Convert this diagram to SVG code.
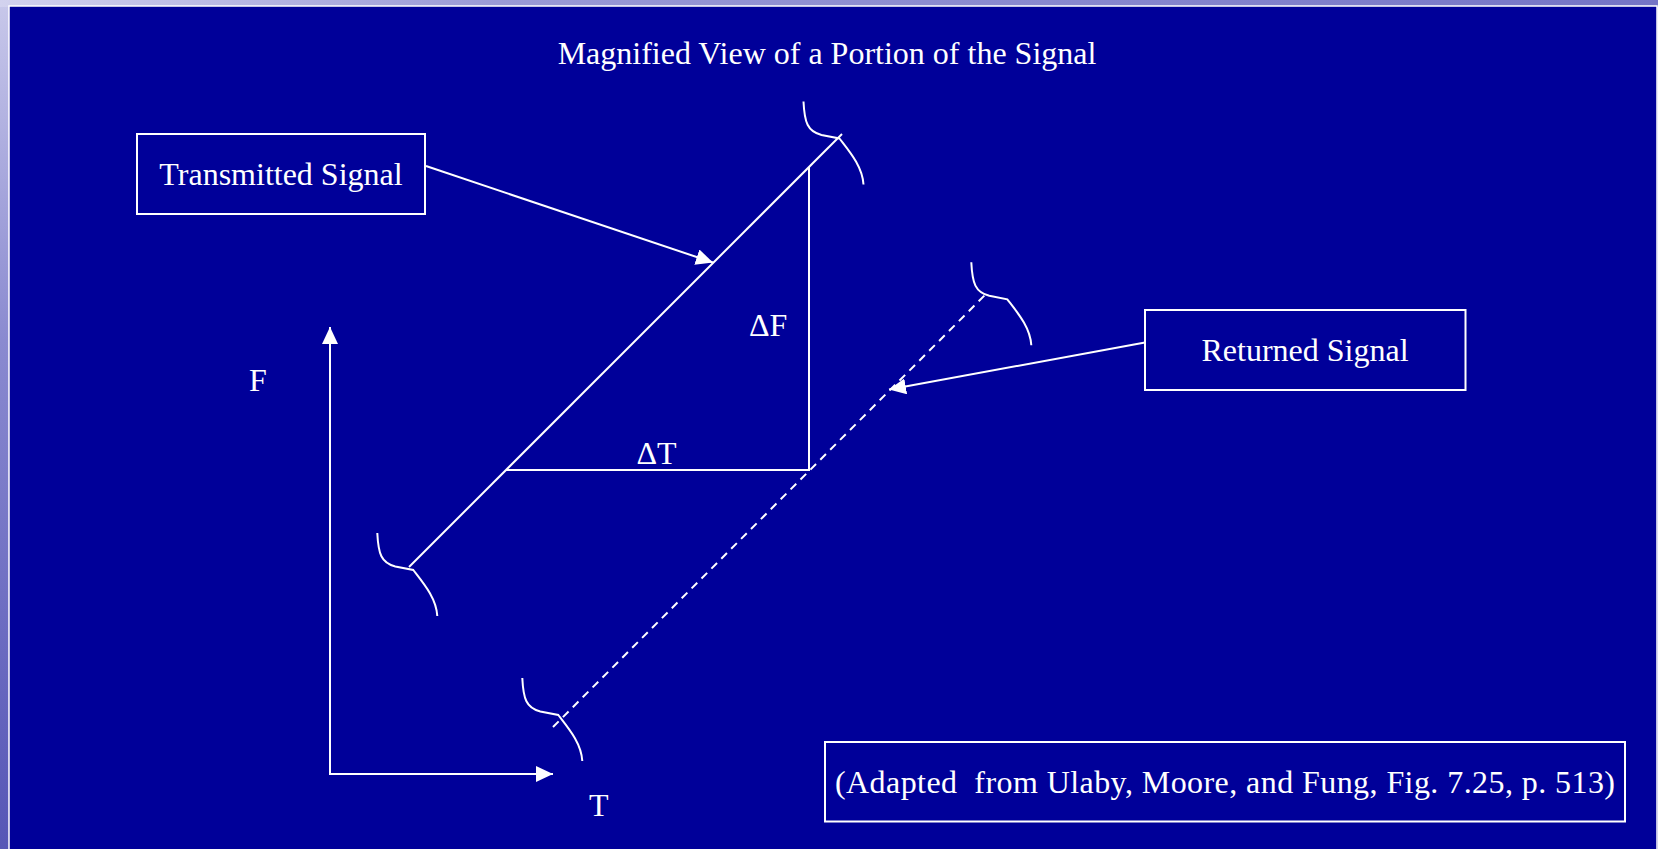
<svg xmlns="http://www.w3.org/2000/svg" width="1658" height="849" viewBox="0 0 1658 849">
  <style>
    .t { font-family: "Liberation Serif", "Times New Roman", serif; font-size: 32px; fill: #ffffff; }
    .box { fill: none; stroke: #ffffff; stroke-width: 2; }
    .ln { fill: none; stroke: #ffffff; stroke-width: 2; }
    .dash { fill: none; stroke: #ffffff; stroke-width: 2; stroke-dasharray: 8 6; }
    .arr { fill: none; stroke: #ffffff; stroke-width: 2; marker-end: url(#ah); }
  </style>
  <defs>
    <marker id="ah" markerUnits="userSpaceOnUse" markerWidth="18" markerHeight="16" viewBox="0 0 18 16" refX="17" refY="8" orient="auto">
      <path d="M0 0 L17 8 L0 16 Z" fill="#ffffff"/>
    </marker>
    <linearGradient id="topg" x1="0" y1="0" x2="1" y2="0">
      <stop offset="0" stop-color="#d2d2ee"/>
      <stop offset="0.3" stop-color="#9a9ad6"/>
      <stop offset="1" stop-color="#7474c6"/>
    </linearGradient>
    <linearGradient id="leftg" x1="0" y1="0" x2="0" y2="1">
      <stop offset="0" stop-color="#c8c8ea"/>
      <stop offset="0.4" stop-color="#8a8ad0"/>
      <stop offset="1" stop-color="#5656b6"/>
    </linearGradient>
    <path id="brace" d="M -36 -37 C -35 -16, -32 -7, -18 -3.5 L 0 0 C 10 13, 23 28, 24 46" fill="none" stroke="#ffffff" stroke-width="2"/>
  </defs>

  <!-- slide background -->
  <rect x="0" y="0" width="1658" height="849" fill="url(#leftg)"/>
  <rect x="0" y="0" width="1658" height="7" fill="url(#topg)"/>
  <rect x="9" y="6" width="1648" height="900" fill="#000099" stroke="#ffffff" stroke-width="1.5"/>

  <g id="title">
    <text class="t" x="827" y="64" text-anchor="middle">Magnified View of a Portion of the Signal</text>
  </g>

  <g id="transmitted-box">
    <rect class="box" x="137" y="134" width="288" height="80"/>
    <text class="t" x="281" y="185" text-anchor="middle">Transmitted Signal</text>
  </g>

  <g id="returned-box">
    <rect class="box" x="1145" y="310" width="320.5" height="80"/>
    <text class="t" x="1305" y="361" text-anchor="middle">Returned Signal</text>
  </g>

  <g id="source-box">
    <rect class="box" x="825" y="742" width="800" height="79.5"/>
    <text class="t" x="835" y="793" textLength="780" lengthAdjust="spacing" xml:space="preserve">(Adapted  from Ulaby, Moore, and Fung, Fig. 7.25, p. 513)</text>
  </g>

  <g id="transmitted-signal">
    <line class="ln" x1="409" y1="567" x2="842" y2="134"/>
    <use href="#brace" transform="translate(839.5 138.5)"/>
    <use href="#brace" transform="translate(413.3 570)"/>
  </g>

  <g id="returned-signal">
    <line class="dash" x1="553" y1="727" x2="985" y2="295"/>
    <use href="#brace" transform="translate(558.3 715)"/>
    <use href="#brace" transform="translate(1007.3 299.3)"/>
  </g>

  <g id="delta-triangle">
    <line class="ln" x1="809" y1="167" x2="809" y2="470"/>
    <line class="ln" x1="506" y1="470" x2="810" y2="470"/>
    <text class="t" x="749" y="336">ΔF</text>
    <text class="t" x="636.5" y="464">ΔT</text>
  </g>

  <g id="axes">
    <text class="t" x="249" y="391">F</text>
    <text class="t" x="589" y="816">T</text>
  </g>

  <g id="connectors">
    <line class="arr" x1="330" y1="775" x2="330" y2="327"/>
    <line class="arr" x1="329" y1="774" x2="553" y2="774"/>
    <line class="arr" x1="426" y1="166" x2="713" y2="262.5"/>
    <line class="arr" x1="1145" y1="342.5" x2="889" y2="389.5"/>
  </g>
</svg>
